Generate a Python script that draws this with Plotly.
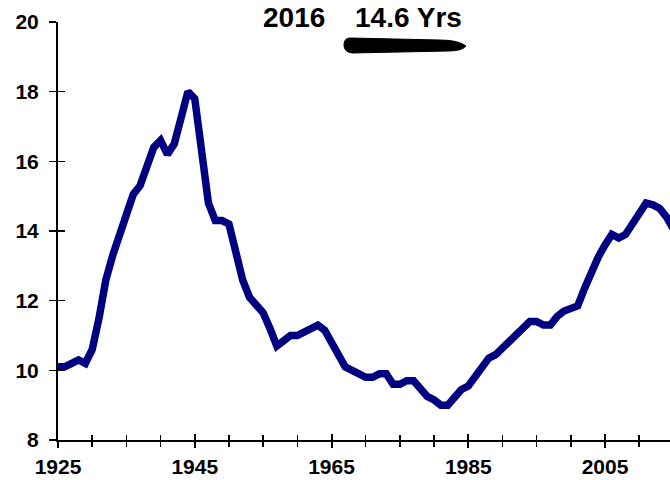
import plotly.graph_objects as go

years = list(range(1925, 2016))
avg_age = [
    10.1, 10.1, 10.2, 10.3, 10.2, 10.6, 11.5, 12.6, 13.3, 13.9,   # 1925-1934
    14.5, 15.05, 15.3, 15.9, 16.4, 16.6, 16.2, 16.5, 17.3, 18.0,  # 1935-1944
    17.8, 16.2, 14.8, 14.3, 14.3, 14.2, 13.3, 12.6, 12.1, 11.9,   # 1945-1954
    11.65, 11.2, 10.7, 10.85, 11.0, 11.0, 11.1, 11.2, 11.3, 11.15,  # 1955-1964
    10.8, 10.4, 10.1, 10.0, 9.9, 9.8, 9.8, 9.9, 9.9, 9.6,       # 1965-1974
    9.6, 9.7, 9.7, 9.45, 9.25, 9.15, 9.0, 9.0, 9.25, 9.45,      # 1975-1984
    9.55, 9.8, 10.1, 10.35, 10.45, 10.65, 10.85, 11.05, 11.25, 11.4,  # 1985-1994
    11.4, 11.3, 11.3, 11.55, 11.7, 11.75, 11.85, 12.35, 12.85, 13.25,  # 1995-2004
    13.6, 13.9, 13.8, 13.9, 14.2, 14.5, 14.8, 14.75, 14.65, 14.4,  # 2005-2014
    14.05,                                                         # 2015
]

title_year = "2016"
title_value = "14.6 Yrs"

x_range = [1925, 2014.5]
y_range = [8, 20]
x_tick_major = 20
x_tick_minor = 5
y_tick = 2

FONT = "Liberation Sans, Arial, sans-serif"
W, H = 670, 480
L, R, T, B = 58, 0, 22, 40
pw, ph = W - L - R, H - T - B


def px(x, y):
    return (x - L) / pw, (H - B - y) / ph


fig = go.Figure()
fig.add_trace(go.Scatter(
    x=years, y=avg_age, mode="lines",
    line=dict(color="#000080", width=7.5, shape="linear"),
    hoverinfo="skip", showlegend=False,
))
# invisible trace for the overlaid axes (used for crossing ticks)
fig.add_trace(go.Scatter(x=[x_range[0]], y=[y_range[0]], xaxis="x2", yaxis="y2",
                         mode="markers", marker=dict(opacity=0), showlegend=False,
                         hoverinfo="skip"))

axis_font = dict(family=FONT, size=21, color="black", weight="bold")
common_x = dict(range=x_range, tick0=1925, dtick=x_tick_major, showgrid=False,
                zeroline=False, fixedrange=True)
common_y = dict(range=y_range, tick0=8, dtick=y_tick, showgrid=False,
                zeroline=False, fixedrange=True)

fig.update_layout(
    width=W, height=H,
    margin=dict(l=L, r=R, t=T, b=B, pad=0, autoexpand=False),
    plot_bgcolor="white", paper_bgcolor="white",
    xaxis=dict(**common_x, showline=True, linecolor="black", linewidth=2,
               ticks="outside", ticklen=6, tickwidth=2, tickcolor="black",
               minor=dict(dtick=x_tick_minor, tick0=1925, ticks="outside",
                          ticklen=5, tickwidth=1.5, tickcolor="black"),
               tickfont=axis_font, ticklabelstandoff=1, automargin=False),
    yaxis=dict(**common_y, showline=True, linecolor="black", linewidth=2,
               ticks="outside", ticklen=7, tickwidth=1.5, tickcolor="black",
               tickfont=axis_font, ticklabelstandoff=6, automargin=False),
    xaxis2=dict(**common_x, overlaying="x", anchor="y2", side="bottom",
                ticks="inside", ticklen=6, tickwidth=2, tickcolor="black",
                minor=dict(dtick=x_tick_minor, tick0=1925, ticks="inside",
                           ticklen=5, tickwidth=1.5, tickcolor="black"),
                showticklabels=False, showline=False),
    yaxis2=dict(**common_y, overlaying="y", anchor="x2", side="left",
                ticks="inside", ticklen=7, tickwidth=1.5, tickcolor="black",
                showticklabels=False, showline=False),
)

tx, ty = px(294, 17)
fig.add_annotation(text=title_year, xref="paper", yref="paper", x=tx, y=ty,
                   xanchor="center", yanchor="middle", showarrow=False,
                   font=dict(family=FONT, size=28, color="black", weight="bold"))
tx, ty = px(408, 17)
fig.add_annotation(text=title_value, xref="paper", yref="paper", x=tx, y=ty,
                   xanchor="center", yanchor="middle", showarrow=False,
                   font=dict(family=FONT, size=28, color="black", weight="bold"))

# black marker scribble under the value
pts = [("M", [(350, 38)]), ("L", [(440, 40)]), ("Q", [(458, 40), (466, 46)]),
       ("Q", [(462, 51), (448, 51)]), ("L", [(352, 53)]),
       ("Q", [(344, 52), (344, 45)]), ("Q", [(344, 38), (350, 38)])]
path = ""
for cmd, coords in pts:
    path += cmd + " " + " ".join("%.4f,%.4f" % px(a, b) for a, b in coords) + " "
path += "Z"
fig.add_shape(type="path", path=path, xref="paper", yref="paper",
              fillcolor="black", line=dict(color="black", width=1), layer="above")

fig.write_html("out.html", config={"displayModeBar": False, "staticPlot": True},
               post_script="document.body.style.margin='0';document.body.style.overflow='hidden';")
